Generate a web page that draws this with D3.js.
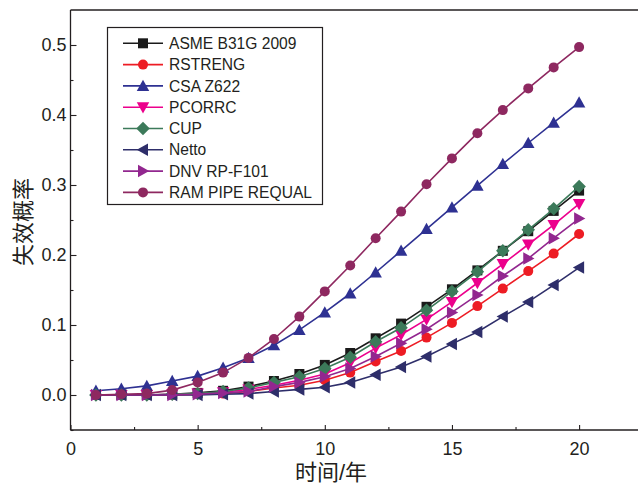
<!DOCTYPE html>
<html>
<head>
<meta charset="utf-8">
<script src="https://cdn.jsdelivr.net/npm/d3@7"></script>
<style>
  html, body { margin: 0; padding: 0; background: #fff; }
  svg { display: block; }
  text { fill: #231f20; }
</style>
</head>
<body>
<div id="chart"></div>
<script>
// Failure probability over service time for eight assessment methods
const years = d3.range(1, 21);

const asme    = [0, 0, 0, 0.001, 0.003, 0.006, 0.012, 0.020, 0.030, 0.043, 0.060, 0.081, 0.102, 0.126, 0.151, 0.178, 0.206, 0.234, 0.263, 0.292];
const rstreng = [0, 0, 0, 0, 0.001, 0.002, 0.005, 0.010, 0.014, 0.021, 0.032, 0.048, 0.063, 0.082, 0.103, 0.127, 0.152, 0.177, 0.202, 0.230];
const csa     = [0.006, 0.009, 0.013, 0.020, 0.027, 0.039, 0.053, 0.071, 0.093, 0.118, 0.145, 0.175, 0.206, 0.237, 0.268, 0.299, 0.330, 0.360, 0.389, 0.418];
const pcorrc  = [0, 0, 0, 0.001, 0.002, 0.004, 0.008, 0.014, 0.021, 0.030, 0.046, 0.067, 0.086, 0.108, 0.133, 0.160, 0.187, 0.215, 0.243, 0.273];
const cup     = [0, 0, 0, 0.001, 0.002, 0.005, 0.010, 0.018, 0.026, 0.038, 0.054, 0.076, 0.096, 0.121, 0.148, 0.176, 0.206, 0.236, 0.266, 0.298];
const netto   = [0, 0, 0, 0, 0, 0.001, 0.002, 0.005, 0.008, 0.011, 0.018, 0.029, 0.040, 0.055, 0.073, 0.090, 0.112, 0.133, 0.157, 0.182];
const dnv     = [0, 0, 0, 0, 0.001, 0.003, 0.005, 0.012, 0.018, 0.026, 0.038, 0.055, 0.074, 0.094, 0.118, 0.143, 0.170, 0.195, 0.224, 0.252];
const ram     = [0, 0.001, 0.002, 0.007, 0.018, 0.032, 0.053, 0.080, 0.112, 0.148, 0.185, 0.224, 0.262, 0.301, 0.338, 0.374, 0.407, 0.438, 0.468, 0.497];

const seriesNames = ["ASME B31G 2009", "RSTRENG", "CSA Z622", "PCORRC", "CUP", "Netto", "DNV RP-F101", "RAM PIPE REQUAL"];
const seriesValues = [asme, rstreng, csa, pcorrc, cup, netto, dnv, ram];
const seriesColors = ["#1a1a1a", "#ed1c24", "#2e3192", "#ec008c", "#3c7a5a", "#2e2e6a", "#92278f", "#8e2860"];
const seriesMarkers = ["square", "circle", "triUp", "triDown", "diamond", "triLeft", "triRight", "circle"];

const xTicks = [0, 5, 10, 15, 20];
const yTicks = [0.0, 0.1, 0.2, 0.3, 0.4, 0.5];

const W = 638, H = 486;
const margin = { left: 70.5, top: 10, bottom: 56 };
const plotRight = 70.5 + 22.5 * 25.43;

const x = d3.scaleLinear().domain([0, 22.5]).range([margin.left, plotRight]);
const y = d3.scaleLinear().domain([-0.05, 0.55]).range([H - margin.bottom, margin.top]);

const svg = d3.select("#chart").append("svg").attr("width", W).attr("height", H);
const font = "'Liberation Sans', Arial, sans-serif";
const titleFont = "'Liberation Sans', 'Noto Sans CJK SC', sans-serif";

// marker path generator, centred at the origin
function markerPath(kind, r) {
  switch (kind) {
    case "square": return `M${-r},${-r}H${r}V${r}H${-r}Z`;
    case "circle": return d3.symbol(d3.symbolCircle, Math.PI * r * r)();
    case "diamond": { const a = r * 1.35; return `M0,${-a}L${a},0L0,${a}L${-a},0Z`; }
    case "triUp": { const a = r * 1.25; return `M0,${-a}L${a},${a * 0.8}L${-a},${a * 0.8}Z`; }
    case "triDown": { const a = r * 1.25; return `M0,${a}L${a},${-a * 0.8}L${-a},${-a * 0.8}Z`; }
    case "triLeft": { const a = r * 1.25; return `M${-a},0L${a * 0.8},${-a}L${a * 0.8},${a}Z`; }
    case "triRight": { const a = r * 1.25; return `M${a},0L${-a * 0.8},${-a}L${-a * 0.8},${a}Z`; }
  }
}
const markerSize = 5;

// plot frame (top, left, bottom)
const frame = svg.append("g").attr("stroke", "#231f20").attr("stroke-width", 1.3).attr("fill", "none");
frame.append("line").attr("x1", x(0)).attr("x2", W + 10).attr("y1", y.range()[1]).attr("y2", y.range()[1]);
frame.append("line").attr("x1", x(0)).attr("x2", W + 10).attr("y1", y.range()[0]).attr("y2", y.range()[0]);
frame.append("line").attr("x1", x(0)).attr("x2", x(0)).attr("y1", y.range()[0]).attr("y2", y.range()[1]);

// x axis: ticks point inward
const xAxis = svg.append("g").attr("transform", `translate(0,${y.range()[0]})`)
  .call(d3.axisBottom(x).tickValues(xTicks).tickSize(-5).tickPadding(12).tickFormat(d3.format("d")));
xAxis.select(".domain").remove();
xAxis.selectAll(".tick line").attr("stroke", "#231f20").attr("stroke-width", 1.1);
xAxis.selectAll("text").attr("font-family", font).attr("font-size", 18).attr("fill", "#231f20");
const xMinor = svg.append("g").attr("transform", `translate(0,${y.range()[0]})`)
  .call(d3.axisBottom(x).tickValues([2.5, 7.5, 12.5, 17.5]).tickSize(-3).tickFormat(""));
xMinor.select(".domain").remove();
xMinor.selectAll(".tick line").attr("stroke", "#231f20").attr("stroke-width", 1.1);

// y axis
const yAxis = svg.append("g").attr("transform", `translate(${x(0)},0)`)
  .call(d3.axisLeft(y).tickValues(yTicks).tickSize(-6).tickPadding(4).tickFormat(d3.format(".1f")));
yAxis.select(".domain").remove();
yAxis.selectAll(".tick line").attr("stroke", "#231f20").attr("stroke-width", 1.1);
yAxis.selectAll("text").attr("font-family", font).attr("font-size", 18).attr("fill", "#231f20");
const yMinor = svg.append("g").attr("transform", `translate(${x(0)},0)`)
  .call(d3.axisLeft(y).tickValues([-0.05, 0.05, 0.15, 0.25, 0.35, 0.45]).tickSize(-3).tickFormat(""));
yMinor.select(".domain").remove();
yMinor.selectAll(".tick line").attr("stroke", "#231f20").attr("stroke-width", 1.1);

// axis titles
svg.append("text").attr("x", 331).attr("y", 480).attr("text-anchor", "middle")
  .attr("font-family", titleFont).attr("font-size", 22).text("时间/年");
svg.append("text").attr("transform", "translate(31,222) rotate(-90)").attr("text-anchor", "middle")
  .attr("font-family", titleFont).attr("font-size", 22).text("失效概率");

// series
const line = d3.line().x((d, i) => x(years[i])).y(d => y(d));
seriesValues.forEach((vals, k) => {
  const g = svg.append("g");
  g.append("path").datum(vals).attr("d", line)
    .attr("fill", "none").attr("stroke", seriesColors[k]).attr("stroke-width", 1.6);
  g.selectAll("path.mk").data(vals).enter().append("path").attr("class", "mk")
    .attr("transform", (d, i) => `translate(${x(years[i])},${y(d)})`)
    .attr("d", markerPath(seriesMarkers[k], markerSize))
    .attr("fill", seriesColors[k]);
});

// legend
const lg = svg.append("g");
lg.append("rect").attr("x", 107.5).attr("y", 27.5).attr("width", 215).attr("height", 177)
  .attr("fill", "#fff").attr("stroke", "#231f20").attr("stroke-width", 1.2);
seriesNames.forEach((name, k) => {
  const cy = 43.3 + k * 21.3;
  lg.append("line").attr("x1", 123).attr("x2", 163).attr("y1", cy).attr("y2", cy)
    .attr("stroke", seriesColors[k]).attr("stroke-width", 1.6);
  lg.append("path").attr("transform", `translate(143,${cy})`)
    .attr("d", markerPath(seriesMarkers[k], markerSize)).attr("fill", seriesColors[k]);
  lg.append("text").attr("x", 169).attr("y", cy + 5.6)
    .attr("font-family", font).attr("font-size", 15.6).text(name);
});
</script>
</body>
</html>
